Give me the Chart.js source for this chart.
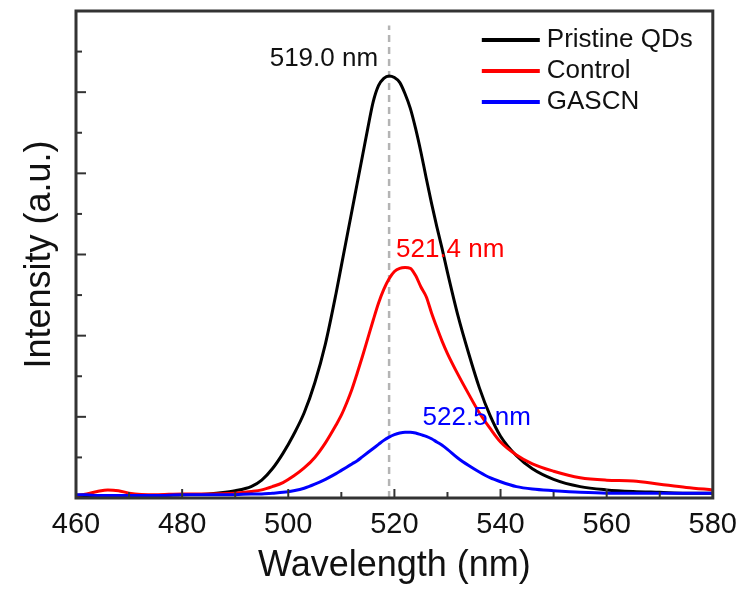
<!DOCTYPE html>
<html>
<head>
<meta charset="utf-8">
<script src="https://cdn.jsdelivr.net/npm/chart.js@4.4.1/dist/chart.umd.min.js"></script>
<style>
    html, body { margin: 0; padding: 0; background: #fff; }
    #wrap { width: 747px; height: 593px; }
</style>
</head>
<body>
<div id="wrap"><canvas id="graph"></canvas></div>
<script>
// Данные
const wavelengths = [460, 462, 464, 466, 468, 470, 475, 480, 485, 490, 493, 495, 497, 499, 501, 503, 505, 507, 509, 510,
    511, 512, 513, 514, 515, 516, 517, 518, 519, 520, 521, 522, 523, 524, 525, 526, 527, 528, 529, 530,
    532, 534, 536, 538, 540, 543, 546, 550, 555, 560, 565, 570, 575, 580];
const pristine = [0.03, 0.03, 0.03, 0.03, 0.03, 0.03, 0.03, 0.04, 0.05, 0.09, 0.14, 0.22, 0.36, 0.55, 0.78, 1.05, 1.42, 1.90, 2.52, 2.86,
    3.20, 3.54, 3.88, 4.22, 4.56, 4.88, 5.08, 5.17, 5.20, 5.18, 5.12, 4.98, 4.80, 4.55, 4.26, 3.94, 3.63, 3.34, 3.07, 2.78,
    2.24, 1.78, 1.36, 1.02, 0.76, 0.52, 0.36, 0.23, 0.14, 0.10, 0.08, 0.07, 0.06, 0.06];
const control = [0.03, 0.05, 0.08, 0.10, 0.09, 0.06, 0.04, 0.05, 0.05, 0.06, 0.08, 0.10, 0.14, 0.19, 0.27, 0.37, 0.50, 0.68, 0.90, 1.02,
    1.17, 1.34, 1.54, 1.75, 1.97, 2.19, 2.40, 2.57, 2.70, 2.79, 2.83, 2.84, 2.83, 2.74, 2.60, 2.48, 2.28, 2.10, 1.93, 1.78,
    1.52, 1.28, 1.05, 0.86, 0.69, 0.53, 0.42, 0.33, 0.25, 0.22, 0.21, 0.17, 0.13, 0.10];
const gascn = [0.04, 0.04, 0.03, 0.03, 0.03, 0.03, 0.03, 0.04, 0.04, 0.04, 0.05, 0.05, 0.06, 0.07, 0.09, 0.12, 0.17, 0.23, 0.30, 0.34,
    0.38, 0.42, 0.46, 0.51, 0.56, 0.61, 0.66, 0.71, 0.75, 0.78, 0.80, 0.81, 0.81, 0.80, 0.78, 0.76, 0.73, 0.69, 0.65, 0.60,
    0.49, 0.40, 0.32, 0.25, 0.20, 0.14, 0.11, 0.09, 0.07, 0.06, 0.06, 0.06, 0.06, 0.06];
const seriesNames = ['Pristine QDs', 'Control', 'GASCN'];
const seriesColors = ['#000000', '#ff0000', '#0000ff'];
const peakLabels = ['519.0 nm', '521.4 nm', '522.5 nm'];
const peakLine = 519.0;

const FONT = "'Liberation Sans', Arial, sans-serif";

function toPoints(values) {
    return wavelengths.map((x, i) => ({ x: x, y: values[i] }));
}

var datasets = [pristine, control, gascn].map((vals, i) => ({
    label: seriesNames[i],
    data: toPoints(vals),
    borderColor: seriesColors[i],
    backgroundColor: seriesColors[i],
    borderWidth: 3,
    pointRadius: 0,
    cubicInterpolationMode: 'monotone',
    order: 3 - i
}));
datasets.push({
    label: 'peak',
    data: [{ x: peakLine, y: 0 }, { x: peakLine, y: 5.82 }],
    borderColor: '#b4b4b4',
    borderWidth: 2.5,
    borderDash: [7, 5],
    pointRadius: 0,
    order: 10
});

// Рамка, внутренние засечки, легенда и подписи пиков
const decorations = {
    id: 'decorations',
    afterDraw(chart) {
        const c = chart.ctx;
        const a = chart.chartArea;
        const xs = chart.scales.x, ys = chart.scales.y;
        c.save();
        c.strokeStyle = '#333';
        c.lineWidth = 2;
        for (let v = 470; v < 580; v += 10) {
            const px = xs.getPixelForValue(v);
            const len = v % 20 === 0 ? 9 : 6;
            c.beginPath(); c.moveTo(px, a.bottom); c.lineTo(px, a.bottom - len); c.stroke();
        }
        for (let v = 0.5; v < 6; v += 0.5) {
            const py = ys.getPixelForValue(v);
            const len = v % 1 === 0 ? 10 : 6;
            c.beginPath(); c.moveTo(a.left, py); c.lineTo(a.left + len, py); c.stroke();
        }
        c.lineWidth = 3;
        c.strokeRect(a.left, a.top, a.right - a.left, a.bottom - a.top);

        // легенда
        c.font = '26px ' + FONT;
        c.textBaseline = 'middle';
        c.textAlign = 'left';
        seriesNames.forEach((name, i) => {
            const y = a.top + 29 + i * 31;
            c.strokeStyle = seriesColors[i];
            c.lineWidth = 4;
            c.beginPath(); c.moveTo(a.right - 231, y); c.lineTo(a.right - 173, y); c.stroke();
            c.fillStyle = '#111';
            c.fillText(name, a.right - 166, y);
        });

        // подписи пиков
        c.fillStyle = '#111';
        c.textAlign = 'right';
        c.fillText(peakLabels[0], xs.getPixelForValue(peakLine) - 11, ys.getPixelForValue(5.41));
        c.textAlign = 'left';
        c.fillStyle = seriesColors[1];
        c.fillText(peakLabels[1], xs.getPixelForValue(520.3), ys.getPixelForValue(3.06));
        c.fillStyle = seriesColors[2];
        c.fillText(peakLabels[2], xs.getPixelForValue(525.3), ys.getPixelForValue(0.99));
        c.restore();
    }
};

var ctx = document.getElementById('graph').getContext('2d');
var Graph = new Chart(ctx, {
    type: 'line',
    data: { datasets: datasets },
    options: {
        responsive: true,
        maintainAspectRatio: false,
        animation: false,
        layout: { padding: { top: 11, right: 29, left: 0, bottom: 0 } },
        plugins: { legend: { display: false }, tooltip: { enabled: false } },
        scales: {
            x: {
                type: 'linear',
                min: 460,
                max: 580,
                grid: { display: false, drawTicks: false },
                border: { display: false },
                ticks: { stepSize: 20, padding: 10, color: '#111', font: { family: FONT, size: 29 } },
                title: { display: true, text: 'Wavelength (nm)', color: '#111', padding: { top: 0, bottom: 5 },
                    font: { family: FONT, size: 36 } },
                afterFit: (scale) => { scale.height = 95; }
            },
            y: {
                min: 0,
                max: 6,
                grid: { display: false, drawTicks: false },
                border: { display: false },
                ticks: { display: false, stepSize: 1 },
                title: { display: true, text: 'Intensity (a.u.)', color: '#111', padding: { top: 18, bottom: 0 },
                    font: { family: FONT, size: 36 } },
                afterFit: (scale) => { scale.width = 76; }
            }
        }
    },
    plugins: [decorations]
});
</script>
</body>
</html>
